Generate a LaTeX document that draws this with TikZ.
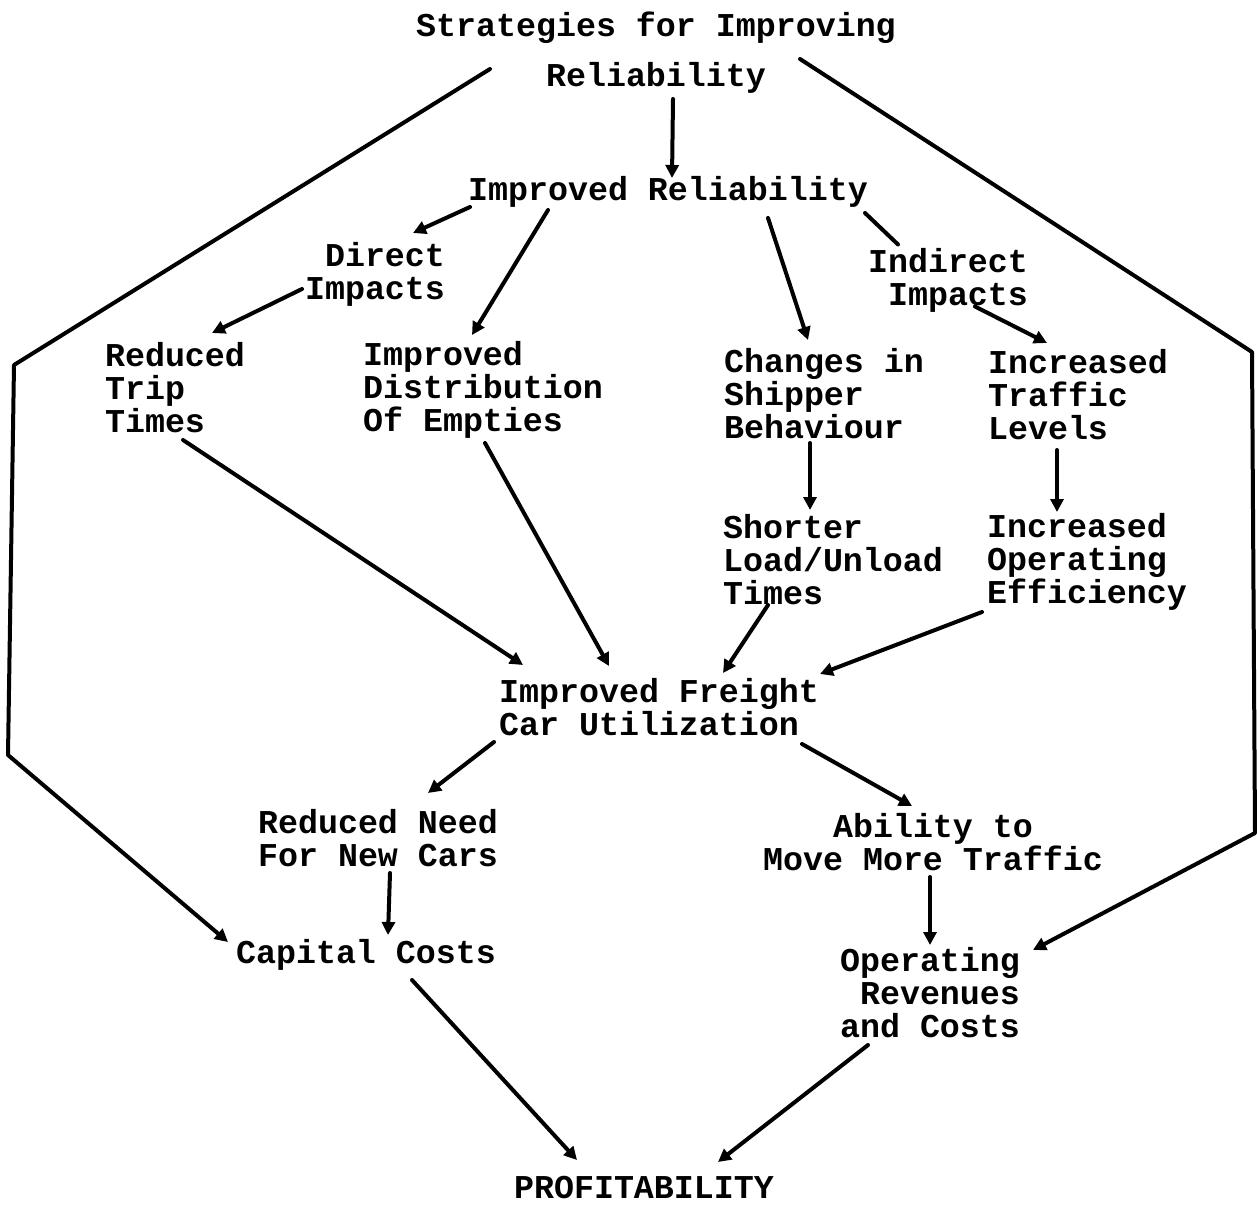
\documentclass[tikz,border=0pt]{standalone}
\usepackage{fontspec}
\newfontfamily\twfont{Liberation Mono}
\usetikzlibrary{arrows.meta,calc}
\begin{document}
\begin{tikzpicture}[x=1pt,y=-1pt,
  lbl/.style={inner sep=0pt, font=\twfont\bfseries\fontsize{33.3}{33}\selectfont},
  lft/.style={lbl,align=left},
  rgt/.style={lbl,align=right},
  ctr/.style={lbl,align=center},
  link/.style={line width=4pt, line cap=round, line join=round},
  arr/.style={link,-{Triangle[length=13pt,width=13pt]}}]
\fill[white] (0,0) rectangle (1257,1204);
\useasboundingbox (0,0) rectangle (1257,1204);

% nodes
\node[ctr] (T) at (656,53) {Strategies for Improving\\[17pt]Reliability};
\node[lbl] (ir) at (668,192) {Improved Reliability};
\node[rgt] (di) at (375,274.5) {Direct\\Impacts};
\node[rgt] (ii) at (948,280) {Indirect\\Impacts};
\node[lft] (rt) at (175,387.5) {Reduced\\Trip\\Times};
\node[lft] (ide) at (483,389.5) {Improved\\Distribution\\Of Empties};
\node[lft] (cs) at (824,393.5) {Changes in\\Shipper\\Behaviour};
\node[lft] (itl) at (1078,395) {Increased\\Traffic\\Levels};
\node[lft] (sl) at (833,559.5) {Shorter\\Load/Unload\\Times};
\node[lft] (ioe) at (1087,561.5) {Increased\\Operating\\Efficiency};
\node[lft] (ifc) at (659,707) {Improved Freight\\Car Utilization};
\node[lft] (rn) at (378,838.5) {Reduced Need\\For New Cars};
\node[ctr] (am) at (933,842.5) {Ability to\\Move More Traffic};
\node[lbl] (cc) at (366,955) {Capital Costs};
\node[rgt] (orc) at (930,993) {Operating\\Revenues\\and Costs};
\node[lbl] (prof) at (644,1188) {PROFITABILITY};

% outer corners
\coordinate (L1) at (14,365);
\coordinate (L2) at (8,755);
\coordinate (R1) at (1252,352);
\coordinate (R2) at (1255,833);

% connectors
\draw[arr] ($(T)+(17,46)$) -- ($(ir)+(4,-14)$);
\draw[arr] ($(ir)+(-198,15)$) -- ($(di)+(38,-41.5)$);
\draw[arr] ($(ir)+(-120,18)$) -- ($(ide)+(-11,-54.5)$);
\draw[arr] ($(ir)+(100,26)$) -- ($(cs)+(-16,-53.5)$);
\draw[link] ($(ir)+(197,21)$) -- ($(ii)+(-50,-35.5)$);
\draw[arr] ($(di)+(-73,14.5)$) -- ($(rt)+(37,-54.5)$);
\draw[arr] ($(ii)+(27,26.5)$) -- ($(itl)+(-31,-52)$);
\draw[arr] ($(cs)+(-14,49.5)$) -- ($(sl)+(-23,-49.5)$);
\draw[arr] ($(itl)+(-21,55)$) -- ($(ioe)+(-30,-49.5)$);
\draw[arr] ($(rt)+(8,52.5)$) -- ($(ifc)+(-136,-42)$);
\draw[arr] ($(ide)+(2,53.5)$) -- ($(ifc)+(-50,-41)$);
\draw[arr] ($(sl)+(-65,45.5)$) -- ($(ifc)+(64,-34)$);
\draw[arr] ($(ioe)+(-105,50.5)$) -- ($(ifc)+(161,-33)$);
\draw[arr] ($(ifc)+(-165,35)$) -- ($(rn)+(50,-45.5)$);
\draw[arr] ($(ifc)+(143,37)$) -- ($(am)+(-21,-36.5)$);
\draw[arr] ($(rn)+(12,34.5)$) -- ($(cc)+(22,-20)$);
\draw[arr] ($(am)+(-3,34.5)$) -- ($(orc)+(0,-48)$);
\draw[arr] ($(cc)+(46,25)$) -- ($(prof)+(-67,-28)$);
\draw[arr] ($(orc)+(-62,52)$) -- ($(prof)+(74,-26)$);
\draw[arr] ($(T)+(-166,16)$) -- (L1) -- (L2) -- ($(cc)+(-138,-13)$);
\draw[arr] ($(T)+(144,6)$) -- (R1) -- (R2) -- ($(orc)+(103,-43)$);
\end{tikzpicture}
\end{document}
